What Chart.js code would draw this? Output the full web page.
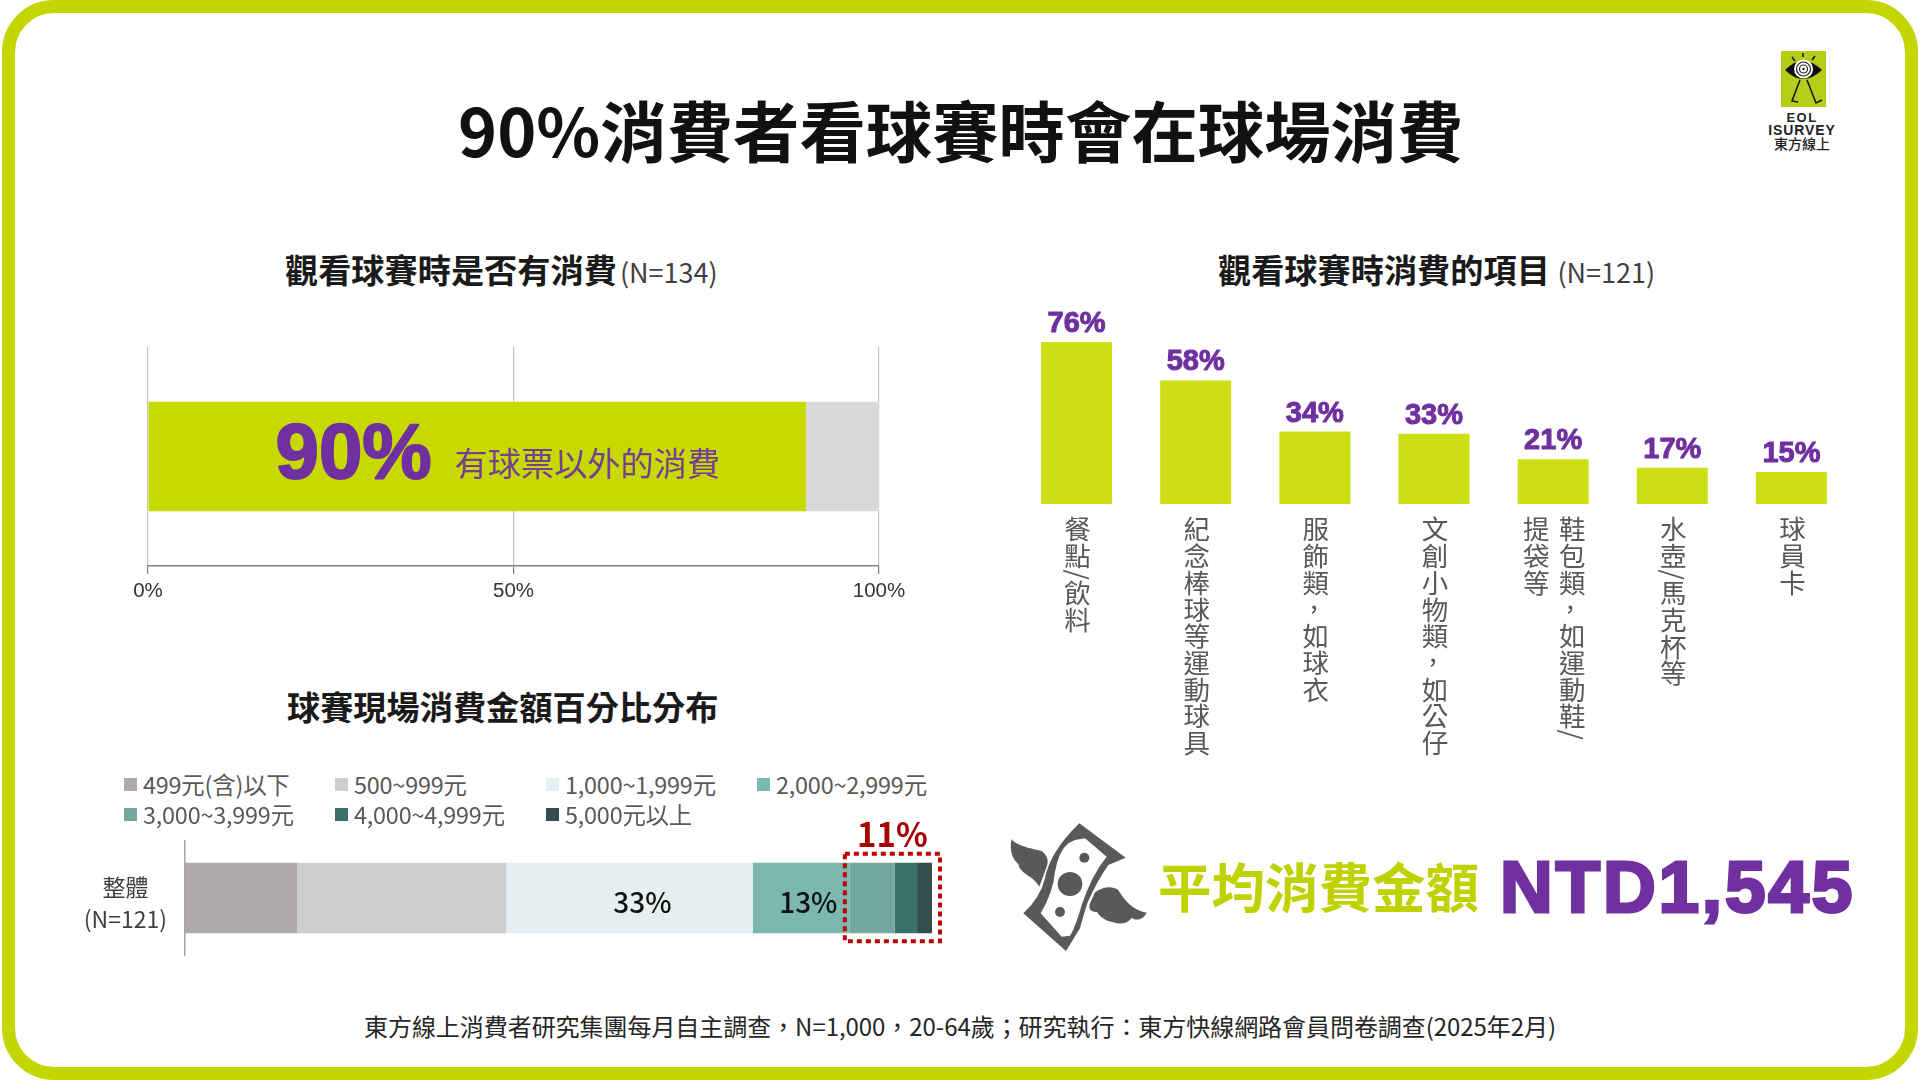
<!DOCTYPE html>
<html lang="zh-Hant"><head><meta charset="utf-8">
<script src="https://cdn.jsdelivr.net/npm/chart.js@4"></script>
<style>
html,body{margin:0;padding:0;background:#fff}
#page{position:relative;width:1920px;height:1080px;overflow:hidden;background:#fff;font-family:"Noto Sans CJK TC","Noto Sans",sans-serif;color:#111}
#frame{position:absolute;left:2px;top:0;width:1916px;height:1080px;box-sizing:border-box;border:13px solid #C4D500;border-radius:52px}
.t{position:absolute;white-space:nowrap;transform:translateY(-50%);line-height:1}
canvas{position:absolute}
.sub{font-size:33.2px;font-weight:700;color:#1a1a1a}
.sub small{font-size:27px;font-weight:400;color:#404040;margin-left:3px}
.lg{position:absolute;display:flex;align-items:center;font-size:23.4px;color:#595959;transform:translateY(-50%);white-space:nowrap;letter-spacing:-.2px}
.lg i{display:block;width:13px;height:13px;margin-right:6px}
</style></head><body>
<div id="page">
<div id="frame"></div>
<div class="t" style="left:458px;top:128px;font-size:66.4px;font-weight:700;color:#111">90%消費者看球賽時會在球場消費</div>
<div class="t sub" style="left:285px;top:269px">觀看球賽時是否有消費<small>(N=134)</small></div>
<div class="t sub" style="left:1218px;top:269px">觀看球賽時消費的項目 <small style="margin-left:0">(N=121)</small></div>
<div class="t sub" style="left:287px;top:706px">球賽現場消費金額百分比分布</div>
<canvas id="c1" width="830" height="270" style="left:100px;top:340px"></canvas>
<canvas id="c2" width="880" height="500" style="left:1000px;top:280px"></canvas>
<canvas id="c3" width="900" height="150" style="left:60px;top:810px"></canvas>
<div id="legend"></div>
<svg style="position:absolute;left:1000px;top:815px" width="160" height="150" viewBox="0 0 480 450">
<path fill="#595959" d="M238,25 L377,128 L325,150 Q290,200 262,265 Q245,320 240,340 L198,408 L70,295 Q120,250 135,190 Q150,110 238,25Z"/>
<path fill="#fff" d="M225,75 L255,70 L320,125 Q275,180 245,270 Q225,340 210,362 L185,365 L122,295 Q160,230 165,170 Q175,110 205,85Z"/>
<path fill="#595959" d="M35,72 C45,90 90,100 125,108 C140,120 148,135 140,155 L118,215 C105,195 90,185 85,183 C70,170 58,165 55,147 C35,130 28,105 35,72Z"/>
<path fill="#595959" d="M285,232 C310,215 335,212 355,225 C375,260 400,285 440,293 C430,315 405,318 395,308 C385,325 360,330 340,322 C330,322 300,310 292,292 C280,290 262,290 270,265Z"/>
<ellipse fill="#595959" cx="210" cy="207" rx="37" ry="36"/><circle fill="#595959" cx="253" cy="128" r="15"/><circle fill="#595959" cx="180" cy="291" r="15"/>
</svg>
<div class="t" style="left:1158px;top:885px;font-size:53.5px;font-weight:700;color:#BFD200">平均消費金額</div>
<div class="t" style="left:1500px;top:886px;font-family:'Liberation Sans';font-size:73px;font-weight:700;color:#7030A0;-webkit-text-stroke:3px #7030A0;letter-spacing:2.8px">NTD1,545</div>
<svg style="position:absolute;left:1781px;top:51px" width="45" height="56" viewBox="0 0 45 56">
<rect width="45" height="56" fill="#B5CC18"/>
<path d="M4,19 Q22,1 41,19 Q22,37 4,19Z" fill="#111"/>
<circle cx="22.500" cy="18" r="9.500" fill="#fff"/><circle cx="22.500" cy="18" r="7" fill="none" stroke="#222" stroke-width="1.200"/><circle cx="22.500" cy="18" r="4" fill="none" stroke="#222" stroke-width="1.200"/><circle cx="22.500" cy="18" r="1.200" fill="#222"/>
<path d="M19,29 L11,50 L17,51 M26,29 L35,52 L41,49 M11,6 L14,10 M22,2 L22,6 M34,5 L31,9" fill="none" stroke="#111" stroke-width="1.500"/>
</svg>
<div class="t" style="left:1767px;width:70px;text-align:center;top:117px;font:700 13px 'Liberation Sans';letter-spacing:1.500px;color:#222">EOL</div>
<div class="t" style="left:1767px;width:70px;text-align:center;top:130px;font:700 14px 'Liberation Sans';letter-spacing:.9px;color:#222">ISURVEY</div>
<div class="t" style="left:1767px;width:70px;text-align:center;top:143px;font-size:14px;font-weight:500;color:#222">東方線上</div>
<div class="t" style="left:364px;top:1026px;font-size:24px;color:#262626;letter-spacing:-.05px">東方線上消費者研究集團每月自主調查，N=1,000，20-64歲；研究執行：東方快線網路會員問卷調查(2025年2月)</div>
</div>
<script>
const purchaseCategories = ['整體'];
const purchaseYes = [90];
const purchaseNo = [10];
const purchaseTicks = [0, 50, 100];
const itemCategories = ['餐點/飲料','紀念棒球等運動球具','服飾類，如球衣','文創小物類，如公仔','鞋包類，如運動鞋/\n提袋等','水壺/馬克杯等','球員卡'];
const itemValues = [76, 58, 34, 33, 21, 17, 15];
const spendNames = ['499元(含)以下','500~999元','1,000~1,999元','2,000~2,999元','3,000~3,999元','4,000~4,999元','5,000元以上'];
const spendValues = [15, 28, 33, 13, 6, 3, 2];
const spendColors = ['#ADAAA9','#CFCDCE','#E3F0EF','#7BB8B0','#74A7A0','#397069','#354E4C'];
const spendLabelled = [2, 3];
const spendHighlight = [4, 5, 6];
const CJK = '"Noto Sans CJK TC","Noto Sans",sans-serif';
Chart.defaults.animation = false;
Chart.defaults.responsive = false;
Chart.defaults.devicePixelRatio = 1;
Chart.defaults.plugins.legend.display = false;
Chart.defaults.plugins.tooltip.enabled = false;

function strokeText(ctx, txt, x, y, color, sw){
  ctx.fillStyle = color; ctx.fillText(txt, x, y);
  if (sw) { ctx.strokeStyle = color; ctx.lineWidth = sw; ctx.lineJoin = 'round'; ctx.strokeText(txt, x, y); }
}

new Chart(document.getElementById('c1'), {
  type: 'bar',
  data: { labels: purchaseCategories, datasets: [
    { data: purchaseYes, backgroundColor: '#C8D900', barPercentage: .5, categoryPercentage: 1 },
    { data: purchaseNo, backgroundColor: '#D9D9D9', barPercentage: .5, categoryPercentage: 1 } ] },
  options: {
    indexAxis: 'y',
    layout: { padding: { left: 48, right: 51, top: 7, bottom: 0 } },
    scales: {
      x: { stacked: true, min: 0, max: 100, afterFit(s){ s.height = 44; },
        afterBuildTicks(s){ s.ticks = purchaseTicks.map(v => ({ value: v })); },
        grid: { color: '#C4C4C4', tickColor: '#808080', tickLength: 8, lineWidth: 1.200 },
        border: { color: '#808080', width: 1.500 },
        ticks: { padding: 5, color: '#333', maxRotation: 0, font: { family: '"Liberation Sans"', size: 20.500 }, callback: v => v + '%' } },
      y: { stacked: true, display: false }
    }
  },
  plugins: [{ id: 'inBarText', afterDatasetsDraw(c){
    const ctx = c.ctx, bar = c.getDatasetMeta(0).data[0];
    ctx.save(); ctx.textBaseline = 'middle'; ctx.textAlign = 'left';
    ctx.font = '700 78px "Liberation Sans"';
    strokeText(ctx, purchaseYes[0] + '%', bar.base + 127, bar.y, '#7030A0', 2);
    ctx.font = '400 33.2px ' + CJK;
    strokeText(ctx, '有球票以外的消費', bar.base + 306, bar.y + 7, '#75408F', 0);
    ctx.restore();
  } }]
});

new Chart(document.getElementById('c2'), {
  type: 'bar',
  data: { labels: itemCategories, datasets: [{ data: itemValues, backgroundColor: '#CDDE14', barPercentage: 1, categoryPercentage: .596 }] },
  options: {
    layout: { padding: { left: 17, right: 29, top: 11, bottom: 0 } },
    scales: {
      y: { display: false, min: 0, max: 100 },
      x: { afterFit(s){ s.height = 276; }, grid: { display: false, drawTicks: false }, border: { display: false }, ticks: { display: false, autoSkip: false } }
    }
  },
  plugins: [{ id: 'values', afterDatasetsDraw(c){
    const ctx = c.ctx, xs = c.scales.x; ctx.save(); ctx.textAlign = 'center'; ctx.textBaseline = 'alphabetic';
    ctx.font = '700 29px "Liberation Sans"';
    c.getDatasetMeta(0).data.forEach((b, i) => strokeText(ctx, itemValues[i] + '%', b.x, b.y - 10, '#7030A0', 1));
    ctx.font = '400 26.5px ' + CJK; ctx.fillStyle = '#595959'; ctx.textBaseline = 'middle';
    const rowH = 26.7, colGap = 36;
    xs.getLabels().forEach((label, i) => {
      const cols = label.split('\n'), cx = xs.getPixelForTick(i) + 1;
      cols.forEach((col, k) => {
        const x = cx - (k - (cols.length - 1) / 2) * colGap;
        let y = xs.top + 12;
        for (const ch of col) {
          if (ch === '/') {
            const w = ctx.measureText('/').width;
            ctx.save(); ctx.translate(x, y + w / 2); ctx.rotate(Math.PI / 2); ctx.fillText('/', 0, 0); ctx.restore();
            y += w;
          } else if (ch === '，') {
            ctx.fillText(',', x - 2, y + rowH / 2 - 11); y += rowH;
          } else {
            ctx.fillText(ch, x, y + rowH / 2); y += rowH;
          }
        }
      });
    });
    ctx.restore();
  } }]
});

const labelShift = { 2: 13, 3: 7 };
new Chart(document.getElementById('c3'), {
  type: 'bar',
  data: { labels: [['整體', '(N=121)']], datasets: spendValues.map((v, i) => ({ label: spendNames[i], data: [v], backgroundColor: spendColors[i], barPercentage: .62, categoryPercentage: 1 })) },
  options: {
    indexAxis: 'y',
    layout: { padding: { left: 0, right: 28, top: 31, bottom: 5 } },
    scales: {
      x: { stacked: true, display: false, min: 0, max: 100 },
      y: { stacked: true, afterFit(s){ s.width = 125; s.paddingTop = 0; s.paddingBottom = 0; }, grid: { display: false, drawTicks: false }, border: { color: '#A6A6A6', width: 1.500 },
        ticks: { padding: 18, labelOffset: 5, crossAlign: 'center', color: '#404040', font: { family: CJK, size: 23, lineHeight: 1.4 } } }
    }
  },
  plugins: [{ id: 'segmentText', afterDatasetsDraw(c){
    const ctx = c.ctx; ctx.save(); ctx.textAlign = 'center'; ctx.textBaseline = 'middle';
    ctx.font = '500 28px ' + CJK;
    spendLabelled.forEach(i => { const b = c.getDatasetMeta(i).data[0]; ctx.fillStyle = '#111'; ctx.fillText(spendValues[i] + '%', (b.x + b.base) / 2 + labelShift[i], b.y + 4); });
    const first = c.getDatasetMeta(spendHighlight[0]).data[0], last = c.getDatasetMeta(spendHighlight[spendHighlight.length - 1]).data[0];
    const l = first.base - 5, r = last.x + 8, t = first.y - first.height / 2 - 9, bt = first.y + first.height / 2 + 8;
    ctx.strokeStyle = '#C00000'; ctx.lineWidth = 4; ctx.setLineDash([5, 4]); ctx.strokeRect(l, t, r - l, bt - t);
    ctx.setLineDash([]);
    const total = spendHighlight.reduce((s, i) => s + spendValues[i], 0);
    ctx.font = '700 33px ' + CJK; ctx.fillStyle = '#A80000'; ctx.fillText(total + '%', (l + r) / 2, t - 19);
    ctx.restore();
  } }]
});

const legendBox = document.getElementById('legend');
spendNames.forEach((name, i) => {
  const d = document.createElement('div'); d.className = 'lg';
  d.style.left = (124 + (i % 4) * 211) + 'px'; d.style.top = (i < 4 ? 784 : 814) + 'px';
  d.innerHTML = '<i style="background:' + spendColors[i] + '"></i>' + name;
  legendBox.appendChild(d);
});
</script>
</body></html>
